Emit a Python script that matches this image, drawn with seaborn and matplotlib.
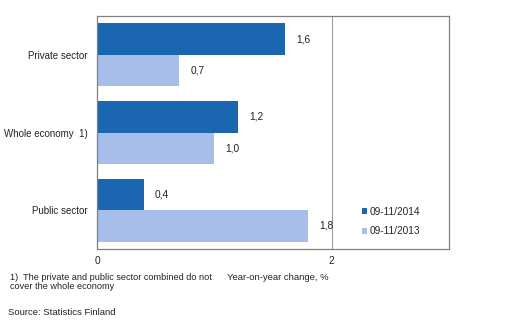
import matplotlib
matplotlib.use("Agg")
import matplotlib.pyplot as plt
import seaborn as sns
import pandas as pd

categories = ["Private sector", "Whole economy  1)", "Public sector"]
period_2014 = [1.6, 1.2, 0.4]
period_2013 = [0.7, 1.0, 1.8]
periods = ["09-11/2014", "09-11/2013"]
colors = ["#1A66B0", "#A7BDEA"]

df = pd.DataFrame({
    "category": categories * 2,
    "value": period_2014 + period_2013,
    "period": [periods[0]] * len(categories) + [periods[1]] * len(categories),
})

sns.set_style("white")
plt.rcParams["font.family"] = ["Liberation Sans", "DejaVu Sans"]

fig = plt.figure(figsize=(5.15, 3.22), dpi=100)
ax = fig.add_axes([0.1883, 0.2267, 0.6837, 0.7233])

sns.barplot(data=df, y="category", x="value", hue="period", order=categories,
            hue_order=periods, palette=colors, orient="h", width=0.81,
            saturation=1, ax=ax, edgecolor="none")

ax.set_xlim(0, 3)
ax.set_xticks([0, 2])
ax.set_xticklabels(["0", "2"], fontsize=7.3)
ax.tick_params(axis="both", length=0, pad=5, colors="#222222")
ax.tick_params(axis="y", labelsize=7.0, pad=7)
ax.set_xlabel("")
ax.set_ylabel("")
ax.axvline(2, color="#A0A0A0", linewidth=0.8, zorder=0)

for s in ax.spines.values():
    s.set_visible(True)
    s.set_color("#808080")
    s.set_linewidth(0.9)

for cont in ax.containers:
    ax.bar_label(cont, labels=[f"{v:.1f}".replace(".", ",") for v in cont.datavalues],
                 padding=8, fontsize=7.3, color="#222222")

leg = ax.legend(loc="lower right", bbox_to_anchor=(0.944, 0.015), frameon=False,
                fontsize=7.3, handlelength=0.55, handleheight=0.55, handletextpad=0.25,
                labelspacing=0.95)

fig.text(0.02, 0.124, "1)  The private and public sector combined do not\ncover the whole economy",
         fontsize=6.6, va="center", ha="left", color="#222222", linespacing=1.05)
fig.text(0.44, 0.138, "Year-on-year change, %", fontsize=6.8, va="center", ha="left",
         color="#222222")
fig.text(0.016, 0.031, "Source: Statistics Finland", fontsize=6.8, va="center",
         ha="left", color="#222222")

fig.savefig("out.png", dpi=100)
